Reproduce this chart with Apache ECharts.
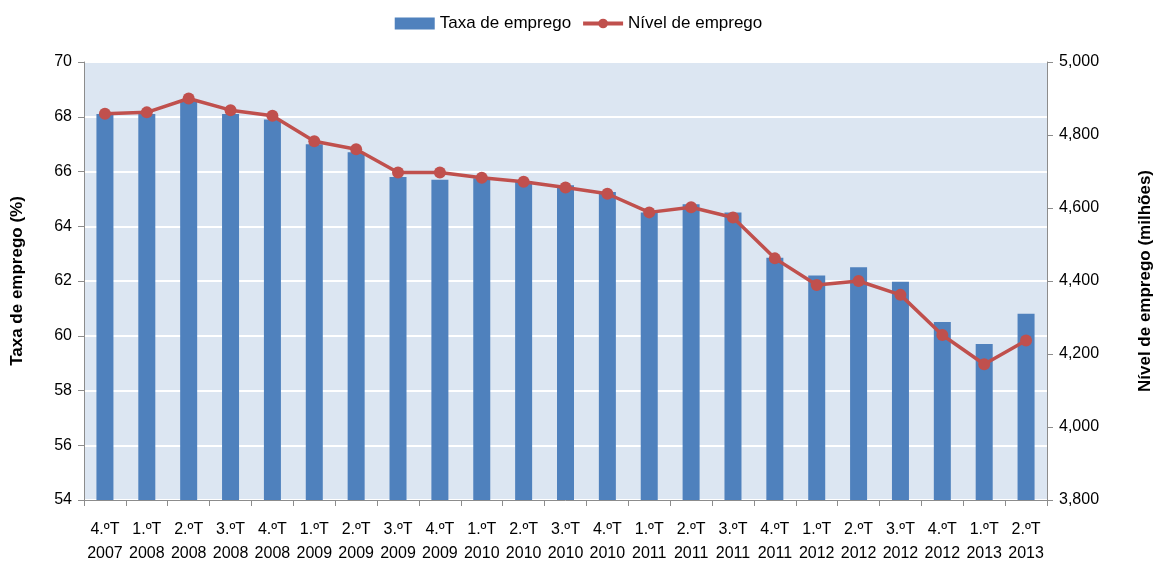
<!DOCTYPE html>
<html>
<head>
<meta charset="utf-8">
<script src="https://cdn.jsdelivr.net/npm/echarts@6/dist/echarts.min.js"></script>
<style>html,body{margin:0;padding:0;background:#fff;}#c{width:1157px;height:565px;}</style>
</head>
<body>
<div id="c"></div>
<script>
const categories = ['4.ºT\n2007','1.ºT\n2008','2.ºT\n2008','3.ºT\n2008','4.ºT\n2008','1.ºT\n2009','2.ºT\n2009','3.ºT\n2009','4.ºT\n2009','1.ºT\n2010','2.ºT\n2010','3.ºT\n2010','4.ºT\n2010','1.ºT\n2011','2.ºT\n2011','3.ºT\n2011','4.ºT\n2011','1.ºT\n2012','2.ºT\n2012','3.ºT\n2012','4.ºT\n2012','1.ºT\n2013','2.ºT\n2013'];
const taxaEmprego = [68.1,68.1,68.6,68.1,67.9,67.0,66.7,65.8,65.7,65.75,65.65,65.5,65.25,64.5,64.8,64.5,62.85,62.2,62.5,61.97,60.5,59.7,60.8];
const nivelEmprego = [4858,4862,4900,4868,4853,4783,4761,4697,4697,4683,4672,4656,4639,4588,4602,4574,4462,4389,4400,4362,4252,4172,4237];
const leftTicks = [54,70,2];
const rightTicks = [3800,5000,200];

const font = 'Liberation Sans, Arial, sans-serif';
const chart = echarts.init(document.getElementById('c'));
chart.setOption({
  animation: false,
  textStyle: {fontFamily: font, color: '#000'},
  legend: {
    top: 10, left: 'center', itemWidth: 40, itemHeight: 12, itemGap: 10,
    textStyle: {fontSize: 17, color: '#000', fontFamily: font},
    data: [
      {name: 'Taxa de emprego', icon: 'rect', itemHeight: 10},
      {name: 'Nível de emprego', lineStyle: {width: 4, color: '#c0504d'}}
    ]
  },
  grid: {left: 84, right: 110, top: 62, bottom: 65, show: true, backgroundColor: '#dce6f2', borderWidth: 0,
    containLabel: false, outerBoundsMode: 'none'},
  xAxis: {
    type: 'category', data: categories,
    axisLine: {lineStyle: {color: '#8c8c8c', width: 1}},
    axisTick: {show: true, length: 6, lineStyle: {color: '#8c8c8c'}},
    axisLabel: {interval: 0, fontSize: 16, color: '#000', lineHeight: 24, margin: 18, fontFamily: font}
  },
  yAxis: [{
    type: 'value', min: leftTicks[0], max: leftTicks[1], interval: leftTicks[2],
    name: 'Taxa de emprego (%)', nameLocation: 'middle', nameRotate: 90, nameGap: 58,
    nameTextStyle: {fontSize: 17, fontWeight: 'bold', color: '#000', fontFamily: font},
    axisLine: {show: true, lineStyle: {color: '#8c8c8c'}},
    axisTick: {show: true, length: 6, lineStyle: {color: '#8c8c8c'}},
    axisLabel: {fontSize: 16, color: '#000', margin: 12, fontFamily: font},
    splitLine: {show: true, lineStyle: {color: '#ffffff', width: 2}}
  }, {
    type: 'value', min: rightTicks[0], max: rightTicks[1], interval: rightTicks[2],
    name: 'Nível de emprego (milhões)', nameLocation: 'middle', nameRotate: 90, nameGap: 90,
    nameTextStyle: {fontSize: 17, fontWeight: 'bold', color: '#000', fontFamily: font},
    axisLine: {show: true, lineStyle: {color: '#8c8c8c'}},
    axisTick: {show: true, length: 6, lineStyle: {color: '#8c8c8c'}},
    axisLabel: {fontSize: 16, color: '#000', margin: 12, fontFamily: font,
      formatter: v => v.toLocaleString('en-US')},
    splitLine: {show: false}
  }],
  series: [{
    name: 'Taxa de emprego', type: 'bar', data: taxaEmprego, yAxisIndex: 0,
    barWidth: 17, itemStyle: {color: '#4f81bd'}
  }, {
    name: 'Nível de emprego', type: 'line', data: nivelEmprego, yAxisIndex: 1,
    symbol: 'circle', symbolSize: 12,
    lineStyle: {color: '#c0504d', width: 3.5},
    itemStyle: {color: '#c0504d'}
  }]
});
</script>
</body>
</html>
